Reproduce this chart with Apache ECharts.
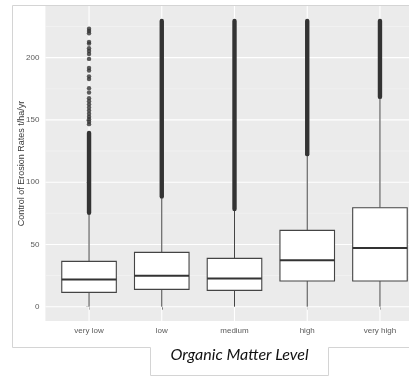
<!DOCTYPE html>
<html>
<head>
<meta charset="utf-8">
<script src="https://cdn.jsdelivr.net/npm/echarts@6/dist/echarts.min.js"></script>
<style>
  html, body { margin: 0; padding: 0; background: #ffffff; }
  #chart { width: 409px; height: 376px; }
</style>
</head>
<body>
<div id="chart"></div>
<script>
// Organic matter level groups
const categories = ['very low', 'low', 'medium', 'high', 'very high'];

// Box statistics (t/ha/yr)
const whiskerLow  = [0, 0, 0, 0, 0];
const q1          = [11.5, 13.9, 13.1, 20.6, 20.6];
const median      = [21.9, 24.9, 22.7, 37.2, 47.1];
const q3          = [36.4, 43.6, 38.8, 61.3, 79.5];
const whiskerHigh = [74, 87, 77, 121, 167];

// Outliers packed so tightly they form a solid run: [from, to] per group
const denseLow  = [75.5, 88.5, 78.5, 122.5, 168.5];
const denseHigh = [139.5, 229.5, 229.5, 229.5, 229.5];

// Individual, separated outliers of the "very low" group
const veryLowOutliers = [146.6, 148.5, 150.5, 152.5, 155, 157.5, 160, 162.5, 165, 167.5,
  172, 175.5, 182.8, 185, 189.6, 191.8, 199, 203, 205.3, 207.6, 211.3, 212.7,
  219.6, 221.5, 223.2];

// Axis ticks and grid
const yTicks = [0, 50, 100, 150, 200];
const yMinor = [25, 75, 125, 175, 225];

// discrete x positions (group index), padded by 0.6 on each side
const xPositions = categories.map((c, i) => i);

const chart = echarts.init(document.getElementById('chart'), null, { renderer: 'canvas' });

const boxData = categories.map((c, i) => [i, whiskerLow[i], q1[i], median[i], q3[i], whiskerHigh[i]]);
const denseData = categories.map((c, i) => [i, denseLow[i], denseHigh[i]]);
const scatterData = veryLowOutliers.map(v => [0, v]);

// grid line records: [kind, value]  kind 0 = minor horizontal, 1 = major horizontal, 2 = vertical
const gridData = [
  ...yMinor.map(v => [0, v]),
  ...yTicks.map(v => [1, v]),
  ...xPositions.map(i => [2, i])
];

const frameColor = '#d4d4d4';

chart.setOption({
  backgroundColor: '#ffffff',
  animation: false,
  grid: {
    left: 45.4, right: -14.6, top: 6, bottom: 55,
    outerBoundsMode: 'none',
    show: true, backgroundColor: '#EBEBEB', borderWidth: 0
  },
  xAxis: {
    type: 'value',
    min: -0.6,
    max: categories.length - 0.4,
    axisLine: { show: false },
    axisTick: { show: true, length: 3, customValues: xPositions, lineStyle: { color: '#444', width: 1 } },
    axisLabel: {
      color: '#5a5a5a', fontSize: 8, fontFamily: 'Liberation Sans', margin: 6,
      customValues: xPositions,
      formatter: v => categories[Math.round(v)]
    },
    splitLine: { show: false }
  },
  yAxis: {
    type: 'value',
    min: -11.5,
    max: 241.5,
    name: 'Control of Erosion Rates t/ha/yr',
    nameLocation: 'middle',
    nameRotate: 90,
    nameGap: 19,
    nameMoveOverlap: false,
    nameTextStyle: { color: '#3a3a3a', fontSize: 9, fontFamily: 'Liberation Sans' },
    axisLine: { show: false },
    axisTick: { show: true, length: 3, customValues: yTicks, lineStyle: { color: '#444', width: 1 } },
    axisLabel: { color: '#5a5a5a', fontSize: 8, fontFamily: 'Liberation Sans', margin: 6, customValues: yTicks },
    splitLine: { show: false }
  },
  series: [
    {
      // panel grid lines
      type: 'custom',
      z: 1,
      silent: true,
      data: gridData,
      renderItem: function (params, api) {
        const kind = api.value(0);
        const v = api.value(1);
        const cs = params.coordSys;
        if (kind === 2) {
          const p = api.coord([v, 0]);
          return { type: 'line', shape: { x1: p[0], y1: cs.y, x2: p[0], y2: cs.y + cs.height },
                   style: { stroke: '#ffffff', lineWidth: 1.1 } };
        }
        const p = api.coord([0, v]);
        return { type: 'line', shape: { x1: cs.x, y1: p[1], x2: cs.x + cs.width, y2: p[1] },
                 style: { stroke: kind === 1 ? '#ffffff' : '#f5f5f5', lineWidth: kind === 1 ? 1.1 : 0.6 } };
      }
    },
    {
      // boxes with whiskers and median
      type: 'custom',
      z: 2,
      data: boxData,
      renderItem: function (params, api) {
        const idx = api.value(0);
        const lo = api.coord([idx, api.value(1)]);
        const b1 = api.coord([idx, api.value(2)]);
        const md = api.coord([idx, api.value(3)]);
        const b3 = api.coord([idx, api.value(4)]);
        const hi = api.coord([idx, api.value(5)]);
        const half = api.size([1, 0])[0] * 0.375;
        const x = lo[0];
        const stroke = '#444';
        return {
          type: 'group',
          children: [
            { type: 'line', shape: { x1: x, y1: lo[1], x2: x, y2: b1[1] }, style: { stroke: stroke, lineWidth: 1 } },
            { type: 'line', shape: { x1: x, y1: b3[1], x2: x, y2: hi[1] }, style: { stroke: stroke, lineWidth: 1 } },
            { type: 'rect', shape: { x: x - half, y: b3[1], width: half * 2, height: b1[1] - b3[1] },
              style: { fill: '#ffffff', stroke: stroke, lineWidth: 1.1 } },
            { type: 'line', shape: { x1: x - half, y1: md[1], x2: x + half, y2: md[1] }, style: { stroke: '#333', lineWidth: 2 } }
          ]
        };
      }
    },
    {
      // solid runs of overlapping outliers
      type: 'custom',
      z: 3,
      data: denseData,
      renderItem: function (params, api) {
        const idx = api.value(0);
        const a = api.coord([idx, api.value(1)]);
        const b = api.coord([idx, api.value(2)]);
        return {
          type: 'line',
          shape: { x1: a[0], y1: a[1], x2: b[0], y2: b[1] },
          style: { stroke: '#333333', lineWidth: 4.4, lineCap: 'round' }
        };
      }
    },
    {
      type: 'scatter',
      z: 4,
      data: scatterData,
      symbol: 'circle',
      symbolSize: 4.4,
      itemStyle: { color: '#333333' }
    }
  ],
  graphic: [
    {
      // outer frame with the axis title box below it
      type: 'polyline',
      silent: true,
      shape: { points: [[409, 5.5], [12.5, 5.5], [12.5, 347.5], [150.5, 347.5], [150.5, 375.5], [328.5, 375.5], [328.5, 347.5], [409, 347.5]] },
      style: { stroke: frameColor, fill: null, lineWidth: 1 }
    },
    {
      type: 'text',
      x: 239.5,
      y: 355,
      style: {
        text: 'Organic Matter Level',
        fill: '#111111',
        font: 'italic 16px Lato',
        textAlign: 'center',
        textVerticalAlign: 'middle'
      }
    }
  ]
});
</script>
</body>
</html>
